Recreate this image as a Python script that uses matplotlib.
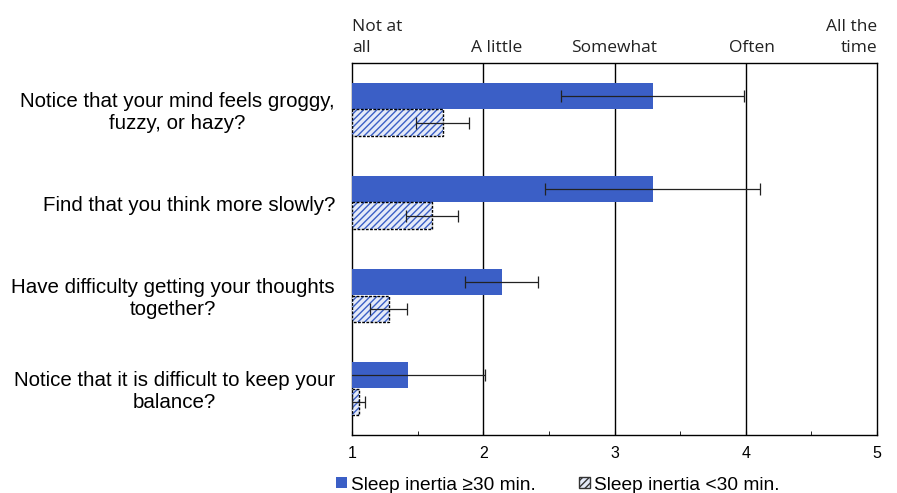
import matplotlib
matplotlib.use("Agg")
import matplotlib.pyplot as plt
from matplotlib.patches import Patch

questions = [
    "Notice that your mind feels groggy,\nfuzzy, or hazy?",
    "Find that you think more slowly?",
    "Have difficulty getting your thoughts\ntogether?",
    "Notice that it is difficult to keep your\nbalance?",
]
long_vals = [3.29, 3.29, 2.14, 1.43]
long_err = [0.70, 0.82, 0.28, 0.58]
short_vals = [1.69, 1.61, 1.28, 1.05]
short_err = [0.20, 0.20, 0.14, 0.05]
scale_labels = ["Not at\nall", "A little", "Somewhat", "Often", "All the\ntime"]
series_names = ["Sleep inertia \u226530 min.", "Sleep inertia <30 min."]

blue = "#3b5fc6"
fig = plt.figure(figsize=(8.97, 4.93), dpi=100)
ax = fig.add_axes([352/897, 1-435/493, (877-352)/897, (435-63)/493])

base = 1.0
h = 0.28
ypos = list(range(len(questions)))
y_long = [y - h/2 for y in ypos]
y_short = [y + h/2 for y in ypos]

ax.barh(y_long, [v - base for v in long_vals], left=base, height=h,
        color=blue, edgecolor="none", zorder=3)
ax.barh(y_short, [v - base for v in short_vals], left=base, height=h,
        color="#e4eaf8", edgecolor=blue, hatch="/////", linewidth=0, zorder=3)
ax.barh(y_short, [v - base for v in short_vals], left=base, height=h,
        fill=False, edgecolor="black", linestyle=(0, (2, 1)), linewidth=1.0, zorder=4)
ax.errorbar(long_vals, y_long, xerr=long_err, fmt="none", ecolor="#222222",
            elinewidth=0.9, capsize=4, capthick=0.9, zorder=5)
ax.errorbar(short_vals, y_short, xerr=short_err, fmt="none", ecolor="#222222",
            elinewidth=0.9, capsize=4, capthick=0.9, zorder=5)

ax.set_xlim(1, 5)
ax.set_ylim(len(questions) - 0.5, -0.5)
ax.set_xticks([1, 2, 3, 4, 5])
ax.set_xticks([1.5, 2.5, 3.5, 4.5], minor=True)
ax.tick_params(axis="x", which="both", direction="in", length=3, labelsize=11.5, pad=8)
ax.set_xticklabels(["1", "2", "3", "4", "5"], family="Liberation Sans")
ax.set_yticks(ypos)
ax.set_yticklabels([])
ax.tick_params(axis="y", length=0)
for x in [2, 3, 4]:
    ax.axvline(x, color="black", linewidth=1.0, zorder=2)
for s in ax.spines.values():
    s.set_color("black")
    s.set_linewidth(1.0)

for y, q in zip(ypos, questions):
    ax.text(0.87, y + 0.03, q, ha="right", va="center", multialignment="center",
            fontsize=14.8, family="Liberation Sans", transform=ax.transData,
            clip_on=False, linespacing=1.2)

top_x = [1.0, 2.1, 3.0, 4.05, 5.0]
top_ha = ["left", "center", "center", "center", "right"]
for x, lab, ha in zip(top_x, scale_labels, top_ha):
    ax.text(x, -0.5 - 0.08, lab, ha=ha, va="bottom", fontsize=12.5,
            family="Open Sans", color="#222222",
            multialignment=("left" if ha == "left" else "right"),
            transform=ax.transData, clip_on=False, linespacing=1.35)

handles = [Patch(facecolor=blue, edgecolor="none"),
           Patch(facecolor="#e4eaf8", edgecolor="#333333", hatch="/////")]
fig.legend(handles, series_names, loc="center left", bbox_to_anchor=(319/897, 1 - 485/493),
           ncol=2, frameon=False, handlelength=0.55, handleheight=0.55, handletextpad=0.2,
           columnspacing=2.3, prop={"family": "Liberation Sans", "size": 13.8})

fig.savefig("out.png", dpi=100)
